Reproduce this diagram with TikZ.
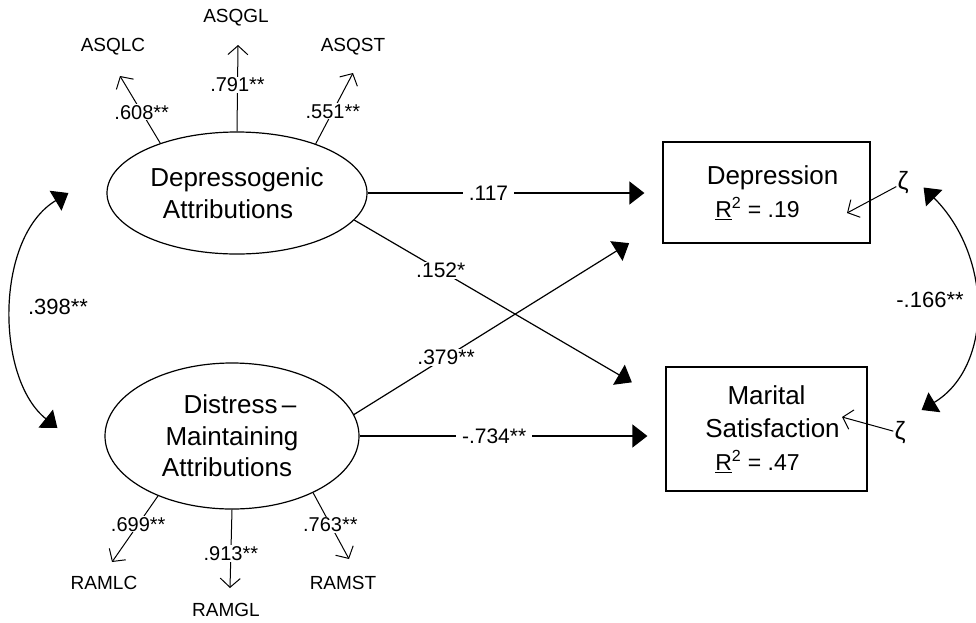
\documentclass[tikz,border=0pt]{standalone}
\usepackage{fontspec}
\setmainfont{Liberation Sans}
\usetikzlibrary{arrows.meta,shapes.geometric,calc}
\begin{document}
\begin{tikzpicture}[x=1pt,y=-1pt,
  lat/.style={draw,ellipse,line width=1.2pt,inner sep=0pt,align=center,font=\fontsize{26}{31.5}\selectfont},
  obs/.style={draw,rectangle,line width=1.2pt,inner sep=0pt,align=center,font=\fontsize{26}{33}\selectfont},
  indtext/.style={inner sep=1pt,font=\fontsize{19}{19}\selectfont},
  lbl/.style={fill=white,inner xsep=6pt,inner ysep=1pt,font=\fontsize{21}{21}\selectfont},
  sl/.style={fill=white,inner xsep=2pt,inner ysep=1pt,font=\fontsize{20}{20}\selectfont},
  covlbl/.style={inner sep=1pt,font=\fontsize{22}{22}\selectfont},
  main/.style={line width=1.2pt,-{Triangle[length=15pt,width=23pt]},shorten >=18pt},
  ind/.style={line width=1pt,-{Straight Barb[length=9pt,width=20pt,line width=1pt]}},
  cov/.style={line width=1.2pt,{Triangle[length=15pt,width=23pt]}-{Triangle[length=15pt,width=23pt]}},
  zeta/.style={inner sep=1pt,font=\fontsize{25}{25}\selectfont}]
\useasboundingbox (0,0) rectangle (976,622);

% latent variables
\node[lat,minimum width=260pt,minimum height=122pt] (dep) at (237,193)
  {Depressogenic\\Attributions\hspace*{18pt}};
\node[lat,minimum width=254pt,minimum height=146pt] (dis) at (232,436)
  {\hspace*{16pt}Distress\,–\\Maintaining\hspace*{9pt}\\Attributions\hspace*{10pt}};

% observed outcomes
\node[obs,minimum width=207pt,minimum height=101pt] (dbox) at (766.5,192.5)
  {\hspace*{12pt}Depression\\{\fontsize{23}{33}\selectfont\underline{R}\textsuperscript{2} = .19}\hspace*{18pt}};
\node[obs,minimum width=201pt,minimum height=124pt] (mbox) at (766.5,429)
  {Marital\\\hspace*{12pt}Satisfaction\\{\fontsize{23}{33}\selectfont\underline{R}\textsuperscript{2} = .47}\hspace*{18pt}};

% indicators
\node[indtext] (asqlc) at (113,47) {ASQLC};
\node[indtext] (asqgl) at (236,18) {ASQGL};
\node[indtext] (asqst) at (353,47) {ASQST};
\node[indtext] (ramlc) at (104,583) {RAMLC};
\node[indtext] (ramgl) at (226,610) {RAMGL};
\node[indtext] (ramst) at (343,583) {RAMST};

\coordinate (t1) at (120,76);
\coordinate (t2) at (238,45);
\coordinate (t3) at (353,73);
\coordinate (t4) at (112,562);
\coordinate (t5) at (230,588);
\coordinate (t6) at (349,559);

\draw[ind] (dep.147) -- (t1) node[sl,pos=0.46]{.608**};
\draw[ind] (dep.90) -- (t2) node[sl,pos=0.54]{.791**};
\draw[ind] (dep.32.5) -- (t3) node[sl,pos=0.46]{.551**};
\draw[ind] (dis.219) -- (t4) node[sl,pos=0.43]{.699**};
\draw[ind] (dis.270) -- (t5) node[sl,pos=0.56]{.913**};
\draw[ind] (dis.-35) -- (t6) node[sl,pos=0.48]{.763**};

% structural paths
\draw[main] (dep.east) -- (dep.east -| dbox.west) node[lbl,pos=0.41]{.117};
\draw[main] (dep.-13) -- ([shift={(-18,25)}]mbox.north west) node[lbl,pos=0.295]{.152*};
\draw[main] (dis.10) -- ([shift={(-18,-10)}]dbox.south west) node[lbl,pos=0.317]{.379**};
\draw[main] (dis.east) -- (dis.east -| mbox.west) node[lbl,pos=0.44]{-.734**};

% disturbances
\node[zeta] (z1) at (903,183) {ζ};
\node[zeta] (z2) at (900,433) {ζ};
\coordinate (zt1) at (847,213);
\coordinate (zt2) at (842,417);
\draw[ind] (z1) -- (zt1);
\draw[ind] (z2) -- (zt2);

% covariances
\draw[cov] ([shift={(-38,0)}]dep.west) .. controls (-5,237) and (-5,378) .. ([shift={(-47,-8)}]dis.west);
\node[covlbl] (c1) at (58,307) {.398**};
\draw[cov] ([shift={(53,-5)}]dbox.east) .. controls (993,257) and (993,367) .. ([shift={(54,-19)}]mbox.east);
\node[covlbl] (c2) at (930,300) {-.166**};
\end{tikzpicture}
\end{document}
